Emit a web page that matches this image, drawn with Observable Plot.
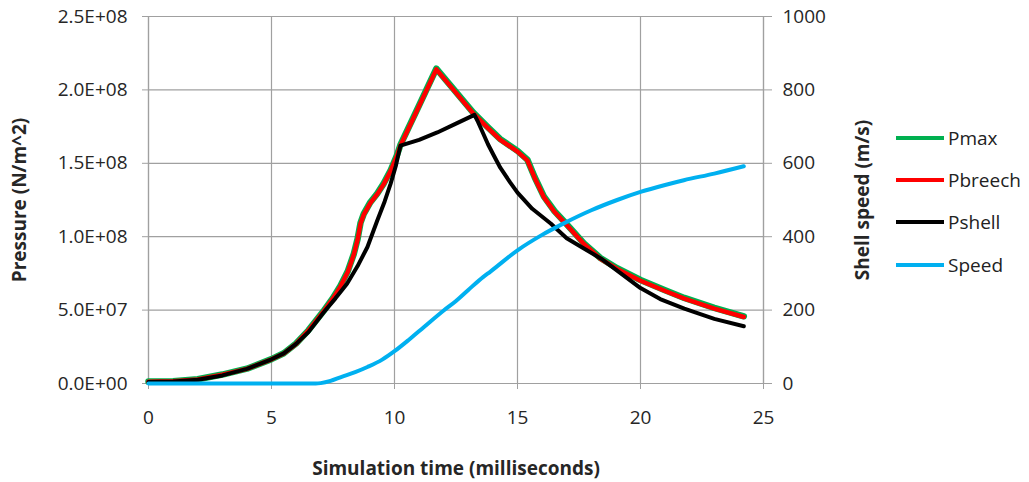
<!DOCTYPE html>
<html>
<head>
<meta charset="utf-8">
<script src="https://cdn.jsdelivr.net/npm/d3@7"></script>
<script src="https://cdn.jsdelivr.net/npm/@observablehq/plot@0.6"></script>
<style>
  body { margin: 0; background: #fff; }
  #wrap { position: relative; width: 1029px; height: 482px; font-family: "Open Sans", sans-serif; }
  #wrap svg [aria-label="y-axis label"], #wrap svg [aria-label="x-axis label"] { font-weight: bold; }
  .legend { position: absolute; left: 896px; top: 0; font-size: 19px; color: #222; }
  .legend .item { position: absolute; left: 0; white-space: nowrap; display: flex; align-items: center; height: 26px; }
  .legend .sw { width: 48px; height: 4px; margin-right: 4px; }
</style>
</head>
<body>
<div id="wrap"></div>
<script>
// ---- data ----
const timeTicks = [0, 5, 10, 15, 20, 25];
const pressureTicks = [0, 5e7, 1e8, 1.5e8, 2e8, 2.5e8];
const speedTicks = [0, 200, 400, 600, 800, 1000];

const pbreechTime = [0, 1, 2, 3, 4, 5, 5.5, 6, 6.5, 7.1, 7.5, 7.8, 8.1, 8.35, 8.5, 8.62, 8.75, 9.02, 9.3, 9.57, 9.85, 10.1, 10.24, 11.0, 11.7, 12.4, 13.2, 13.8, 14.3, 15.0, 15.4, 15.7, 16.07, 16.5, 17.0, 17.7, 18.37, 19.05, 20, 21, 21.78, 23, 24.2];
const pbreechValues = [1.2e6, 1.5e6, 2.8e6, 6.0e6, 1.0e7, 1.65e7, 2.05e7, 2.7e7, 3.6e7, 4.87e7, 5.8e7, 6.6e7, 7.6e7, 8.8e7, 9.8e7, 1.09e8, 1.15e8, 1.23e8, 1.29e8, 1.36e8, 1.45e8, 1.55e8, 1.62e8, 1.89e8, 2.14e8, 2.0e8, 1.84e8, 1.74e8, 1.66e8, 1.58e8, 1.52e8, 1.40e8, 1.27e8, 1.17e8, 1.08e8, 0.95e8, 0.85e8, 0.78e8, 0.70e8, 0.63e8, 0.578e8, 0.51e8, 0.453e8];

const pmaxTime = [0, 1, 2, 3, 4, 5, 5.5, 6, 6.5, 7.1, 7.5, 7.8, 8.1, 8.35, 8.5, 8.62, 8.75, 9.02, 9.3, 9.57, 9.85, 10.1, 10.24, 11.0, 11.7, 12.4, 13.2, 13.8, 14.3, 15.0, 15.4, 15.7, 16.07, 16.5, 17.0, 17.7, 18.37, 19.05, 20, 21, 21.78, 23, 24.2];
const pmaxValues = [1.3e6, 1.6e6, 2.9e6, 6.1e6, 1.01e7, 1.66e7, 2.06e7, 2.72e7, 3.62e7, 4.9e7, 5.83e7, 6.65e7, 7.65e7, 8.85e7, 9.85e7, 1.095e8, 1.155e8, 1.235e8, 1.295e8, 1.365e8, 1.455e8, 1.555e8, 1.625e8, 1.895e8, 2.145e8, 2.005e8, 1.845e8, 1.745e8, 1.665e8, 1.585e8, 1.525e8, 1.405e8, 1.275e8, 1.175e8, 1.085e8, 0.955e8, 0.855e8, 0.785e8, 0.705e8, 0.635e8, 0.583e8, 0.515e8, 0.458e8];

const pshellTime = [0, 1, 2, 3, 4, 5, 5.5, 6, 6.5, 7.1, 7.6, 8.07, 8.5, 8.9, 9.3, 9.6, 9.84, 10.05, 10.24, 11.0, 11.74, 12.5, 13.25, 13.4, 13.56, 13.8, 14.0, 14.3, 14.7, 15.0, 15.6, 16.35, 17.0, 17.7, 18.4, 19.2, 20, 20.8, 21.78, 23, 24.2];
const pshellValues = [1.0e6, 1.3e6, 2.6e6, 5.5e6, 1.0e7, 1.65e7, 2.05e7, 2.7e7, 3.5e7, 4.8e7, 5.8e7, 6.8e7, 8.0e7, 9.3e7, 1.11e8, 1.24e8, 1.36e8, 1.48e8, 1.62e8, 1.66e8, 1.71e8, 1.77e8, 1.83e8, 1.78e8, 1.72e8, 1.63e8, 1.565e8, 1.47e8, 1.37e8, 1.30e8, 1.19e8, 1.09e8, 0.99e8, 0.92e8, 0.85e8, 0.75e8, 0.65e8, 0.575e8, 0.51e8, 0.44e8, 0.39e8];

const speedTime = [0, 3, 6.8, 7.0, 7.4, 7.8, 8.4, 8.9, 9.5, 10, 10.6, 11.2, 12.0, 12.5, 13.0, 13.6, 13.9, 15, 16, 16.9, 18, 19.05, 20, 21, 21.76, 23, 24.2];
const speedValues = [0, 0, 0, 1, 7, 17, 31, 45, 65, 88, 120, 154, 199, 225, 255, 290, 305, 363, 405, 437, 472, 500, 522, 541, 554, 572, 592];

const seriesNames = ["Pmax", "Pbreech", "Pshell", "Speed"];
const seriesColors = ["#00B050", "#FF0000", "#000000", "#00B0F0"];

// ---- build ----
const pMax = 2.5e8, sMax = 1000, k = pMax / sMax; // speed -> pressure-axis units
const rows = (t, v) => t.map((x, i) => ({t: x, v: v[i]}));
const fmtE = d => {
  const [m, e] = d.toExponential(1).split("e");
  return m + "E" + e[0] + e.slice(1).padStart(2, "0");
};

const chart = Plot.plot({
  width: 1029,
  height: 482,
  marginLeft: 148,
  marginRight: 266,
  marginTop: 16,
  marginBottom: 99,
  style: {fontFamily: "'Open Sans', sans-serif", fontSize: "19px", color: "#262626", background: "transparent", overflow: "visible"},
  x: {domain: [0, 25]},
  y: {domain: [0, pMax]},
  marks: [
    Plot.gridX(timeTicks, {stroke: "#A0A0A0", strokeOpacity: 1, strokeWidth: 1.2}),
    Plot.gridY(pressureTicks, {stroke: "#A0A0A0", strokeOpacity: 1, strokeWidth: 1.2}),
    Plot.ruleX([0, 25], {stroke: "#A0A0A0", strokeWidth: 1.2}),
    Plot.ruleY([0], {stroke: "#A0A0A0", strokeWidth: 1.2}),
    Plot.axisX({ticks: timeTicks, tickSize: 6, tickPadding: 21, stroke: "#A0A0A0",
      label: "Simulation time (milliseconds)", labelAnchor: "center", labelArrow: "none", labelOffset: 91}),
    Plot.axisY({anchor: "left", ticks: pressureTicks, tickFormat: fmtE, tickSize: 6, tickPadding: 15, stroke: "#A0A0A0",
      label: "Pressure (N/m^2)", labelAnchor: "center", labelArrow: "none", labelOffset: 136}),
    Plot.axisY({anchor: "right", ticks: speedTicks.map(s => s * k), tickFormat: d => String(Math.round(d / k)),
      tickSize: 8, tickPadding: 11, stroke: "#A0A0A0",
      label: "Shell speed (m/s)", labelAnchor: "center", labelArrow: "none", labelOffset: 105}),
    Plot.line(rows(pmaxTime, pmaxValues), {x: "t", y: "v", stroke: seriesColors[0], strokeWidth: 6.5, strokeLinejoin: "round"}),
    Plot.line(rows(pbreechTime, pbreechValues), {x: "t", y: "v", stroke: seriesColors[1], strokeWidth: 4.5, strokeLinejoin: "round"}),
    Plot.line(rows(pshellTime, pshellValues), {x: "t", y: "v", stroke: seriesColors[2], strokeWidth: 4, strokeLinejoin: "round"}),
    Plot.line(rows(speedTime, speedValues), {x: "t", y: d => d.v * k, stroke: seriesColors[3], strokeWidth: 4, curve: "monotone-x"})
  ]
});

const wrap = document.getElementById("wrap");
wrap.appendChild(chart);

// legend
const legendRows = [138, 180, 222, 265];
const lg = document.createElement("div");
lg.className = "legend";
seriesNames.forEach((name, i) => {
  const it = document.createElement("div");
  it.className = "item";
  it.style.top = (legendRows[i] - 13) + "px";
  const sw = document.createElement("span");
  sw.className = "sw";
  sw.style.background = seriesColors[i];
  const tx = document.createElement("span");
  tx.textContent = name;
  it.appendChild(sw);
  it.appendChild(tx);
  lg.appendChild(it);
});
wrap.appendChild(lg);
</script>
</body>
</html>
